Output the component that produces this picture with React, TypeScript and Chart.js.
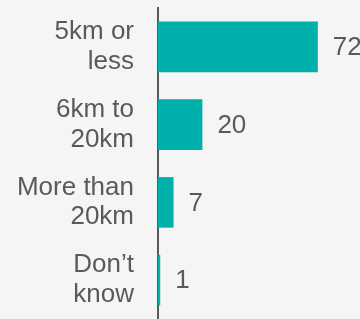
import React, { useEffect, useRef } from "react";
import { Chart, registerables } from "chart.js";

Chart.register(...registerables);

const categories: string[][] = [["5km or", "less"], ["6km to", "20km"], ["More than", "20km"], ["Don’t", "know"]];
const values: number[] = [72, 20, 7, 1];

const textColor = "#5A5A5A";
const barColor = "#00B0AA";
const fontFamily = "'Liberation Sans', Arial, sans-serif";

const valueLabels = {
  id: "valueLabels",
  afterDatasetsDraw(chart: any) {
    const ctx = chart.ctx;
    const meta = chart.getDatasetMeta(0);
    ctx.save();
    ctx.fillStyle = textColor;
    ctx.font = `26px ${fontFamily}`;
    ctx.textAlign = "left";
    ctx.textBaseline = "middle";
    meta.data.forEach((bar: any, i: number) => {
      ctx.fillText(String(values[i]), bar.x + 15, bar.y + 1);
    });
    ctx.restore();
  },
};

export default function App() {
  const ref = useRef<HTMLCanvasElement | null>(null);
  useEffect(() => {
    if (!ref.current) return;
    const chart = new Chart(ref.current, {
      type: "bar",
      data: {
        labels: categories,
        datasets: [
          {
            data: values,
            backgroundColor: barColor,
            barPercentage: 0.65,
            categoryPercentage: 1,
          },
        ],
      },
      options: {
        indexAxis: "y",
        animation: false,
        responsive: true,
        maintainAspectRatio: false,
        layout: { padding: { top: 8, right: 0, bottom: 0, left: 0 } },
        plugins: { legend: { display: false }, tooltip: { enabled: false } },
        scales: {
          x: { display: false, min: 0, max: 91 },
          y: {
            afterFit: (scale: any) => {
              scale.width = 158;
              scale.paddingTop = 0;
              scale.paddingBottom = 0;
            },
            grid: { display: false, drawTicks: false },
            border: { display: true, color: textColor, width: 2 },
            ticks: {
              color: textColor,
              padding: 24,
              font: { size: 26, family: fontFamily, lineHeight: 1.15 },
            },
          },
        },
      },
      plugins: [valueLabels],
    });
    return () => chart.destroy();
  }, []);
  return (
    <div style={{ position: "fixed", left: 0, top: 0, width: 360, height: 319, background: "#F5F5F5" }}>
      <canvas ref={ref} />
    </div>
  );
}
